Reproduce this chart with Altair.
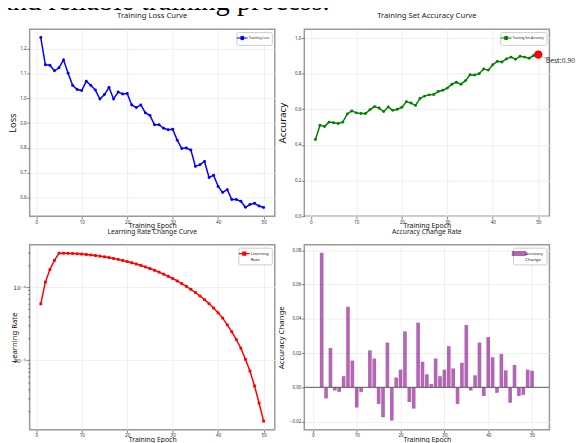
import altair as alt
import pandas as pd

# ---------------- data ----------------
epochs = list(range(1, 51))
loss = [1.245, 1.135, 1.133, 1.111, 1.123, 1.155, 1.101, 1.052, 1.035, 1.031,
        1.069, 1.052, 1.033, 0.997, 1.015, 1.044, 0.997, 1.025, 1.017, 1.019,
        0.973, 0.963, 0.973, 0.941, 0.931, 0.893, 0.893, 0.879, 0.873, 0.875,
        0.831, 0.797, 0.799, 0.791, 0.725, 0.732, 0.745, 0.680, 0.689, 0.644,
        0.620, 0.631, 0.591, 0.591, 0.584, 0.560, 0.571, 0.576, 0.565, 0.559]
accuracy = [0.431, 0.511, 0.504, 0.528, 0.524, 0.520, 0.528, 0.574, 0.591, 0.580,
            0.576, 0.576, 0.598, 0.615, 0.607, 0.587, 0.613, 0.594, 0.600, 0.611,
            0.643, 0.635, 0.622, 0.661, 0.674, 0.681, 0.683, 0.700, 0.707, 0.719,
            0.741, 0.752, 0.741, 0.761, 0.794, 0.793, 0.800, 0.826, 0.820, 0.850,
            0.869, 0.865, 0.883, 0.893, 0.881, 0.898, 0.893, 0.887, 0.902, 0.907]
learning_rate = [5.9e-5, 1.17e-4, 1.74e-4, 2.32e-4, 2.91e-4, 2.907e-4, 2.897e-4, 2.881e-4, 2.858e-4, 2.830e-4,
                 2.795e-4, 2.754e-4, 2.707e-4, 2.655e-4, 2.597e-4, 2.535e-4, 2.467e-4, 2.395e-4, 2.319e-4, 2.239e-4,
                 2.155e-4, 2.069e-4, 1.980e-4, 1.888e-4, 1.795e-4, 1.700e-4, 1.604e-4, 1.505e-4, 1.408e-4, 1.311e-4,
                 1.215e-4, 1.119e-4, 1.026e-4, 9.34e-5, 8.44e-5, 7.57e-5, 6.74e-5, 5.94e-5, 5.17e-5, 4.45e-5,
                 3.77e-5, 3.05e-5, 2.45e-5, 1.92e-5, 1.46e-5, 1.03e-5, 7.1e-6, 4.45e-6, 2.6e-6, 1.47e-6]
change_epochs = list(range(2, 51))
acc_change = [0.0785, -0.0065, 0.0229, -0.0019, -0.0027, 0.0065, 0.0470, 0.0156, -0.0118,
              -0.0027, 0.0000, 0.0215, 0.0168, -0.0097, -0.0175, 0.0261, -0.0194, 0.0057, 0.0103,
              0.0326, -0.0086, -0.0124, 0.0377, 0.0149, 0.0076, 0.0019, 0.0168, 0.0065, 0.0103,
              0.0240, 0.0110, -0.0097, 0.0143, 0.0364, -0.0019, 0.0070, 0.0261, -0.0051, 0.0293,
              0.0175, -0.0032, 0.0194, 0.0099, -0.0090, 0.0130, -0.0051, -0.0044, 0.0103, 0.0097]
best_epoch = [50]
best_acc = [0.907]
best_label = ["Best:0.907"]
zero_line = [0.0]
x_ticks = [0, 10, 20, 30, 40, 50]
loss_ticks = [0.6, 0.7, 0.8, 0.9, 1.0, 1.1, 1.2]
acc_ticks = [0.0, 0.2, 0.4, 0.6, 0.8, 1.0]
change_ticks = [-0.02, 0.0, 0.02, 0.04, 0.06, 0.08]
lr_ticks = [2e-6, 3e-6, 4e-6, 5e-6, 6e-6, 7e-6, 8e-6, 9e-6, 1e-5,
            2e-5, 3e-5, 4e-5, 5e-5, 6e-5, 7e-5, 8e-5, 9e-5, 1e-4, 2e-4, 3e-4]

FONT = "Noto Sans"
W = 249
H_TOP = 190
H_BOT = 188
XDOM = [-1.45, 52.45]


def x_axis():
    return alt.Axis(values=x_ticks, format="d", title="Training Epoch",
                    labelFontSize=4.6, labelColor="#333", labelPadding=0, labelFont=FONT,
                    tickSize=3, tickColor="#555", tickWidth=0.7,
                    domain=False, grid=True, gridColor="#ebebeb", gridWidth=0.8,
                    titleFontSize=7, titleFont=FONT, titleFontWeight="normal", titleColor="#111",
                    titleY=11.5, titleBaseline="alphabetic")


def y_axis(title, values, fmt, title_x, title_size):
    return alt.Axis(values=values, format=fmt, title=title,
                    labelFontSize=4.6, labelColor="#333", labelPadding=0.5, labelFont=FONT,
                    tickSize=3, tickColor="#555", tickWidth=0.7,
                    domain=False, grid=True, gridColor="#ebebeb", gridWidth=0.8,
                    titleFontSize=title_size, titleFont=FONT, titleFontWeight="normal", titleColor="#111",
                    titleX=title_x, titleBaseline="middle")


def legend(symbol, font, fill, label_expr=None, opacity=1.0):
    kw = dict(title=None, orient="top-right", offset=3, padding=2.5,
              strokeColor="#cccccc", fillColor="white", cornerRadius=1.5,
              labelFontSize=font, labelFont=FONT, labelColor="#222", labelOffset=3,
              symbolType=symbol, symbolSize=30, symbolStrokeWidth=1.2,
              symbolFillColor=fill, symbolStrokeColor=fill, symbolOpacity=opacity)
    if label_expr:
        kw["labelExpr"] = label_expr
    return alt.Legend(**kw)


def panel_title(text, size):
    return alt.TitleParams(text, fontSize=size, font=FONT, fontWeight="normal", color="#222",
                           offset=3.8, baseline="alphabetic", anchor="middle")


LINE_DOT = "M-2,0H2M-0.6,0A0.6,0.6,0,1,0,0.6,0A0.6,0.6,0,1,0,-0.6,0Z"
LINE_SQ = "M-2,0H2M-0.55,-0.55H0.55V0.55H-0.55Z"
BAR_RECT = "M-2.4,-0.7H2.4V0.7H-2.4Z"

# ---------------- panel 1: loss ----------------
d_loss = pd.DataFrame({"epoch": epochs, "loss": loss, "series": "Training Loss"})
c1 = alt.Chart(d_loss).mark_line(
    strokeWidth=1.5, point=alt.OverlayMarkDef(filled=True, size=9)
).encode(
    x=alt.X("epoch:Q", scale=alt.Scale(domain=XDOM, nice=False, zero=False), axis=x_axis()),
    y=alt.Y("loss:Q", scale=alt.Scale(domain=[0.524, 1.279], nice=False, zero=False),
            axis=y_axis("Loss", loss_ticks, ".1f", -17.5, 9.5)),
    color=alt.Color("series:N", scale=alt.Scale(range=["#0000ff"]),
                    legend=legend(LINE_DOT, 3.4, "#0000ff")),
).properties(width=W, height=H_TOP, title=panel_title("Training Loss Curve", 7.8))

# ---------------- panel 2: accuracy ----------------
d_acc = pd.DataFrame({"epoch": epochs, "acc": accuracy, "series": "Training Set Accuracy"})
d_best = pd.DataFrame({"epoch": best_epoch, "acc": best_acc, "label": best_label})
x2 = alt.X("epoch:Q", scale=alt.Scale(domain=XDOM, nice=False, zero=False), axis=x_axis())
y2 = alt.Y("acc:Q", scale=alt.Scale(domain=[0, 1.05], nice=False, zero=False),
           axis=y_axis("Accuracy", acc_ticks, ".1f", -22.3, 10))
acc_line = alt.Chart(d_acc).mark_line(
    strokeWidth=1.5, point=alt.OverlayMarkDef(filled=True, size=9)
).encode(
    x=x2, y=y2,
    color=alt.Color("series:N", scale=alt.Scale(range=["#008000"]),
                    legend=legend(LINE_DOT, 3.2, "#008000")),
)
best_arrow = alt.Chart(d_best).mark_point(
    shape="wedge", filled=True, color="#ff7070", opacity=0.6, size=40, angle=300,
    xOffset=6, yOffset=3
).encode(x=x2, y=y2)
best_dot = alt.Chart(d_best).mark_circle(
    size=60, color="#ff0000", opacity=1, stroke="#cc0000", strokeWidth=0.6
).encode(x=x2, y=y2)
best_text = alt.Chart(d_best).mark_text(
    align="left", baseline="middle", dx=7.5, dy=6.5, fontSize=7, font="Noto Sans CJK SC",
    color="#222", limit=31, ellipsis="\u200b"
).encode(x=x2, y=y2, text="label:N")
c2 = alt.layer(acc_line, best_arrow, best_dot, best_text).properties(
    width=W, height=H_TOP, title=panel_title("Training Set Accuracy Curve", 7.8))

# ---------------- panel 3: learning rate ----------------
major = ("(datum.value > 9.9e-6 && datum.value < 1.01e-5) || "
         "(datum.value > 9.9e-5 && datum.value < 1.01e-4)")
lr_label = ("datum.value > 9.9e-5 && datum.value < 1.01e-4 ? '10\u207b\u2074' : "
            "(datum.value > 9.9e-6 && datum.value < 1.01e-5 ? '10\u207b\u2075' : '')")
lr_axis = alt.Axis(values=lr_ticks, title="Learning Rate", labelExpr=lr_label,
                   labelFontSize=6, labelColor="#333", labelPadding=0.5, labelFont="DejaVu Sans",
                   tickSize={"condition": {"test": major, "value": 3.5}, "value": 2},
                   tickColor="#555", tickWidth=0.7,
                   domain=False, grid=True, gridColor="#ebebeb", gridWidth=0.8,
                   gridOpacity={"condition": {"test": major, "value": 1}, "value": 0},
                   titleFontSize=7.8, titleFont=FONT, titleFontWeight="normal", titleColor="#111",
                   titleX=-15, titleBaseline="middle")
d_lr = pd.DataFrame({"epoch": epochs, "lr": learning_rate, "series": "Learning Rate"})
c3 = alt.Chart(d_lr).mark_line(
    strokeWidth=1.5, point=alt.OverlayMarkDef(filled=True, shape="square", size=8)
).encode(
    x=alt.X("epoch:Q", scale=alt.Scale(domain=XDOM, nice=False, zero=False), axis=x_axis()),
    y=alt.Y("lr:Q", scale=alt.Scale(type="log", domain=[1.12e-6, 3.8e-4], nice=False), axis=lr_axis),
    color=alt.Color("series:N", scale=alt.Scale(range=["#ff0000"]),
                    legend=legend(LINE_SQ, 4.4, "#ff0000", "['Learning', 'Rate']")),
).properties(width=W, height=H_BOT, title=panel_title("Learning Rate Change Curve", 6.8))

# ---------------- panel 4: accuracy change ----------------
d_chg = pd.DataFrame({"epoch": change_epochs, "change": acc_change, "series": "Accuracy Change"})
d_zero = pd.DataFrame({"change": zero_line})
XDOM4 = [-0.84, 52.84]
x4 = alt.X("epoch:Q", scale=alt.Scale(domain=XDOM4, nice=False, zero=False), axis=x_axis())
y4 = alt.Y("change:Q", scale=alt.Scale(domain=[-0.0248, 0.0832], nice=False, zero=False),
           axis=y_axis("Accuracy Change", change_ticks, ".2f", -22.8, 8))
bars = alt.Chart(d_chg).mark_bar(size=3.7, opacity=0.6).encode(
    x=x4, y=y4,
    color=alt.Color("series:N", scale=alt.Scale(range=["#800080"]),
                    legend=legend(BAR_RECT, 4.4, "#800080", "['Accuracy', 'Change']", 0.6)),
)
zero = alt.Chart(d_zero).mark_rule(color="#555555", strokeWidth=1).encode(y=y4)
c4 = alt.layer(bars, zero).properties(
    width=W, height=H_BOT, title=panel_title("Accuracy Change Rate", 6.8))

# ---------------- assemble ----------------
chart = alt.concat(
    c1, c2, c3, c4, columns=2, spacing={"row": 29, "column": 30}, bounds="flush"
).resolve_scale(
    color="independent", x="independent", y="independent"
).properties(
    title=alt.TitleParams("and reliable training process.", font="Liberation Serif", fontSize=29,
                          fontWeight="normal", color="black", anchor="start", frame="group",
                          dx=-30, offset=-5),
    padding={"top": -25, "left": -8, "right": 0, "bottom": 0},
).configure_view(
    stroke="#9a9a9a", strokeWidth=1.5
)

chart.save("out.html", embed_options={"renderer": "svg", "actions": False})
